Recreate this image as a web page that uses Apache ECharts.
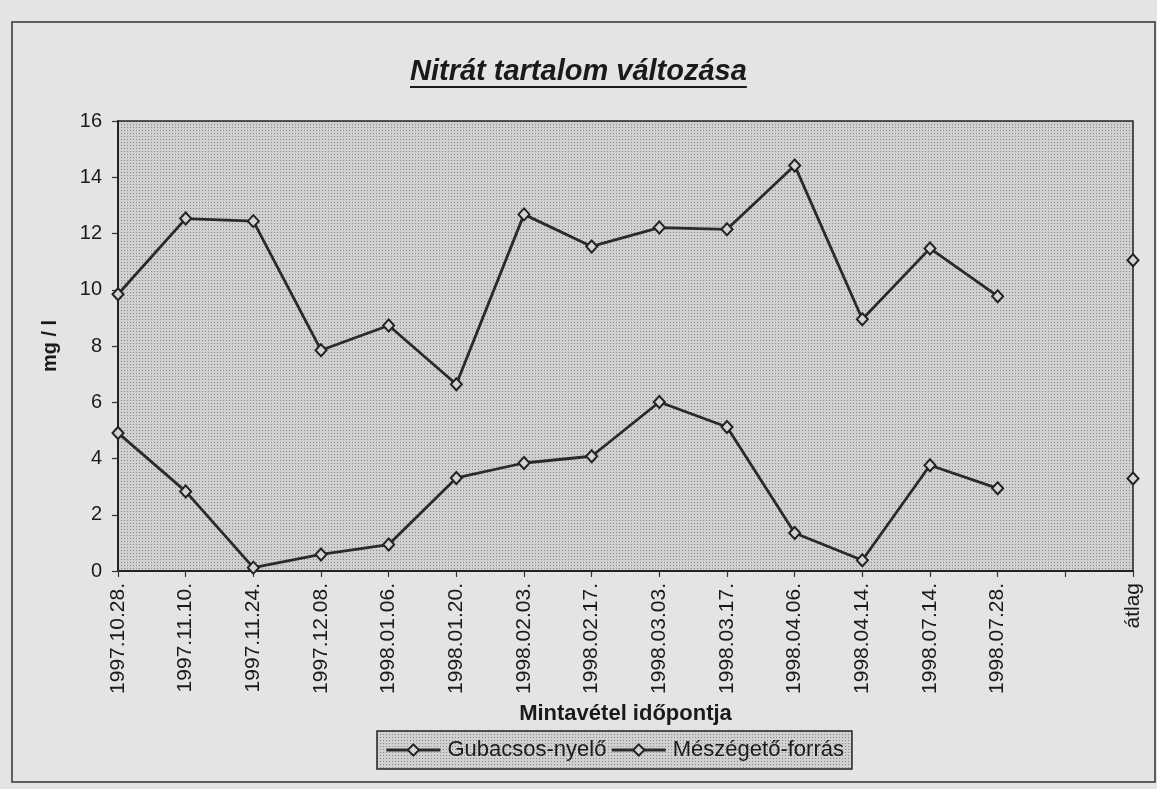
<!DOCTYPE html>
<html>
<head>
<meta charset="utf-8">
<script src="https://cdn.jsdelivr.net/npm/echarts@6/dist/echarts.min.js"></script>
<style>
  html, body { margin: 0; padding: 0; background: #e4e4e4; }
  #chart { width: 1157px; height: 789px; }
</style>
</head>
<body>
<div id="chart"></div>
<script>
// Sampling dates (one empty slot before the average column)
const categories = [
  '1997.10.28.', '1997.11.10.', '1997.11.24.', '1997.12.08.', '1998.01.06.',
  '1998.01.20.', '1998.02.03.', '1998.02.17.', '1998.03.03.', '1998.03.17.',
  '1998.04.06.', '1998.04.14.', '1998.07.14.', '1998.07.28.', '', 'átlag'
];

// Nitrate content, mg/l
const gubacsosNyelo = [9.84, 12.53, 12.44, 7.85, 8.73, 6.64, 12.68, 11.54, 12.21, 12.15, 14.42, 8.95, 11.47, 9.77, null, 11.05];
const meszegetoForras = [4.91, 2.83, 0.12, 0.59, 0.94, 3.31, 3.84, 4.08, 6.01, 5.12, 1.35, 0.38, 3.76, 2.94, null, 3.29];

const seriesNames = ['Gubacsos-nyelő', 'Mészégető-forrás'];
const titleText = 'Nitrát tartalom változása';
const xAxisTitle = 'Mintavétel időpontja';
const yAxisTitle = 'mg / l';

const FONT = '"Liberation Sans", Arial, sans-serif';

// Halftone-like dotted fill for the plot area
function dotPattern() {
  const c = document.createElement('canvas');
  c.width = 3; c.height = 3;
  const g = c.getContext('2d');
  g.fillStyle = '#d0d0d0';
  g.fillRect(0, 0, 3, 3);
  g.fillStyle = '#888888';
  g.fillRect(1, 1, 1, 1);
  return c;
}

// Title width for the underline
function textWidth(font, text) {
  const g = document.createElement('canvas').getContext('2d');
  g.font = font;
  return g.measureText(text).width;
}
const titleSize = 29;
const titleX = 410, titleY = 57;
const titleW = textWidth('italic bold ' + titleSize + 'px ' + FONT, titleText);

const chart = echarts.init(document.getElementById('chart'));

function lineSeries(name, data) {
  return {
    name: name,
    type: 'line',
    data: data,
    connectNulls: false,
    symbol: 'diamond',
    symbolSize: [11, 12],
    showSymbol: true,
    animation: false,
    lineStyle: { color: '#2a2a2a', width: 2.8 },
    itemStyle: { color: '#d4d4d4', borderColor: '#222', borderWidth: 2 }
  };
}

chart.setOption({
  backgroundColor: '#e4e4e4',
  animation: false,
  textStyle: { fontFamily: FONT },
  grid: {
    left: 118, right: 24, top: 121, bottom: 218,
    show: true,
    backgroundColor: { image: dotPattern(), repeat: 'repeat' },
    borderColor: '#222',
    borderWidth: 1.5
  },
  graphic: [
    {
      type: 'rect', silent: true,
      shape: { x: 12, y: 22, width: 1143, height: 760 },
      style: { fill: null, stroke: '#333', lineWidth: 1.5 }
    },
    {
      type: 'text', silent: true, x: titleX, y: titleY,
      style: {
        text: titleText, fill: '#1a1a1a',
        font: 'italic bold ' + titleSize + 'px ' + FONT
      }
    },
    {
      type: 'line', silent: true,
      shape: { x1: titleX, y1: titleY + titleSize + 1, x2: titleX + titleW, y2: titleY + titleSize + 1 },
      style: { stroke: '#1a1a1a', lineWidth: 2.2 }
    }
  ],
  legend: {
    data: seriesNames,
    left: 377, top: 731,
    orient: 'horizontal',
    itemWidth: 54, itemHeight: 14, itemGap: 4,
    padding: [8, 8, 8, 8],
    lineStyle: { width: 2.8, color: '#2a2a2a' },
    backgroundColor: { image: dotPattern(), repeat: 'repeat' },
    borderColor: '#222', borderWidth: 1.5, borderRadius: 0,
    textStyle: { fontSize: 22, color: '#1a1a1a', fontFamily: FONT, padding: [0, 0, 0, 2] }
  },
  xAxis: {
    type: 'category',
    data: categories,
    boundaryGap: false,
    name: xAxisTitle,
    nameLocation: 'middle',
    nameGap: 132,
    nameTextStyle: { fontSize: 22, fontWeight: 'bold', color: '#1a1a1a', fontFamily: FONT },
    axisLine: { lineStyle: { color: '#222', width: 2 } },
    axisTick: { show: true, length: 6, inside: false, lineStyle: { color: '#333', width: 1.2 } },
    axisLabel: { rotate: 90, interval: 0, fontSize: 21, margin: 12, color: '#1a1a1a', fontFamily: FONT },
    splitLine: { show: false }
  },
  yAxis: {
    type: 'value',
    min: 0, max: 16, interval: 2,
    name: yAxisTitle,
    nameLocation: 'middle',
    nameGap: 58,
    nameTextStyle: { fontSize: 20, fontWeight: 'bold', color: '#1a1a1a', fontFamily: FONT },
    axisLine: { show: true, lineStyle: { color: '#222', width: 2 } },
    axisTick: { show: true, length: 6, lineStyle: { color: '#333', width: 1.2 } },
    axisLabel: { fontSize: 20, margin: 16, color: '#1a1a1a', fontFamily: FONT },
    splitLine: { show: false }
  },
  series: [
    lineSeries(seriesNames[0], gubacsosNyelo),
    lineSeries(seriesNames[1], meszegetoForras)
  ]
});
</script>
</body>
</html>
